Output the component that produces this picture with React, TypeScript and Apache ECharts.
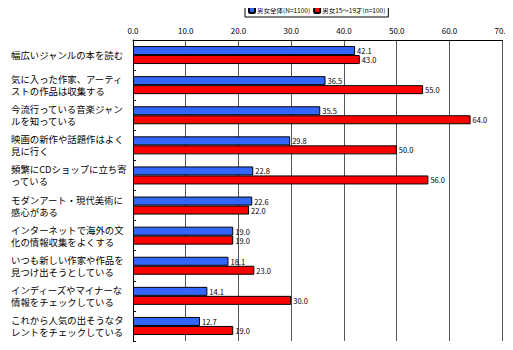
import React, { useEffect, useRef } from "react";
import * as echarts from "echarts";

const categories = [
  "幅広いジャンルの本を読む",
  "気に入った作家、アーティ\nストの作品は収集する",
  "今流行っている音楽ジャン\nルを知っている",
  "映画の新作や話題作はよく\n見に行く",
  "頻繁にCDショップに立ち寄\nっている",
  "モダンアート・現代美術に\n感心がある",
  "インターネットで海外の文\n化の情報収集をよくする",
  "いつも新しい作家や作品を\n見つけ出そうとしている",
  "インディーズやマイナーな\n情報をチェックしている",
  "これから人気の出そうなタ\nレントをチェックしている",
];
const seriesNames = ["男女全体(N=1100)", "男女15～19才(n=100)"];
const allValues = [42.1, 36.5, 35.5, 29.8, 22.8, 22.6, 19.0, 18.1, 14.1, 12.7];
const teenValues = [43.0, 55.0, 64.0, 50.0, 56.0, 22.0, 19.0, 23.0, 30.0, 19.0];

const font = "'Noto Sans CJK JP', sans-serif";

export default function App() {
  const ref = useRef<HTMLDivElement>(null);
  useEffect(() => {
    if (!ref.current) return;
    const chart = echarts.init(ref.current, null, { renderer: "svg" });
    const labelCfg = {
      show: true,
      position: "right" as const,
      distance: 2,
      fontSize: 7.5,
      lineHeight: 9,
      color: "#000",
      fontFamily: font,
      formatter: (p: any) => Number(p.value).toFixed(1),
    };
    chart.setOption({
      animation: false,
      textStyle: { fontFamily: font },
      legend: {
        data: seriesNames,
        left: 245,
        top: 3,
        itemWidth: 6,
        itemHeight: 6,
        itemGap: 3,
        padding: [3, 3],
        borderColor: "#000",
        borderWidth: 1,
        textStyle: { fontSize: 6.5, color: "#000", padding: [0, 0, 0, -3] },
      },
      grid: { left: 133, right: 8, top: 40, bottom: 9, containLabel: false },
      xAxis: {
        type: "value",
        position: "top",
        min: 0,
        max: 70,
        interval: 10,
        axisLine: { show: true, lineStyle: { color: "#000", width: 1 } },
        axisTick: { show: false },
        axisLabel: {
          fontSize: 8,
          color: "#000",
          margin: 6,
          formatter: (v: number) => v.toFixed(1),
        },
        splitLine: { show: true, lineStyle: { color: "#555", width: 1 } },
      },
      yAxis: {
        type: "category",
        data: categories,
        inverse: true,
        axisLine: { show: true, lineStyle: { color: "#000" } },
        axisTick: { show: true, inside: true, length: 3, lineStyle: { color: "#000" } },
        axisLabel: {
          fontSize: 9.4,
          lineHeight: 12,
          color: "#000",
          align: "left",
          margin: 122,
        },
      },
      series: [
        {
          name: seriesNames[0],
          type: "bar",
          data: allValues,
          barWidth: 9,
          barGap: "0%",
          itemStyle: { color: "#3366ff", borderColor: "#000", borderWidth: 1 },
          label: labelCfg,
        },
        {
          name: seriesNames[1],
          type: "bar",
          data: teenValues,
          barWidth: 9,
          barGap: "0%",
          itemStyle: { color: "#ff0000", borderColor: "#000", borderWidth: 1 },
          label: labelCfg,
        },
      ],
    });
    return () => chart.dispose();
  }, []);
  return <div ref={ref} style={{ width: 513, height: 350, margin: -8 }} />;
}
